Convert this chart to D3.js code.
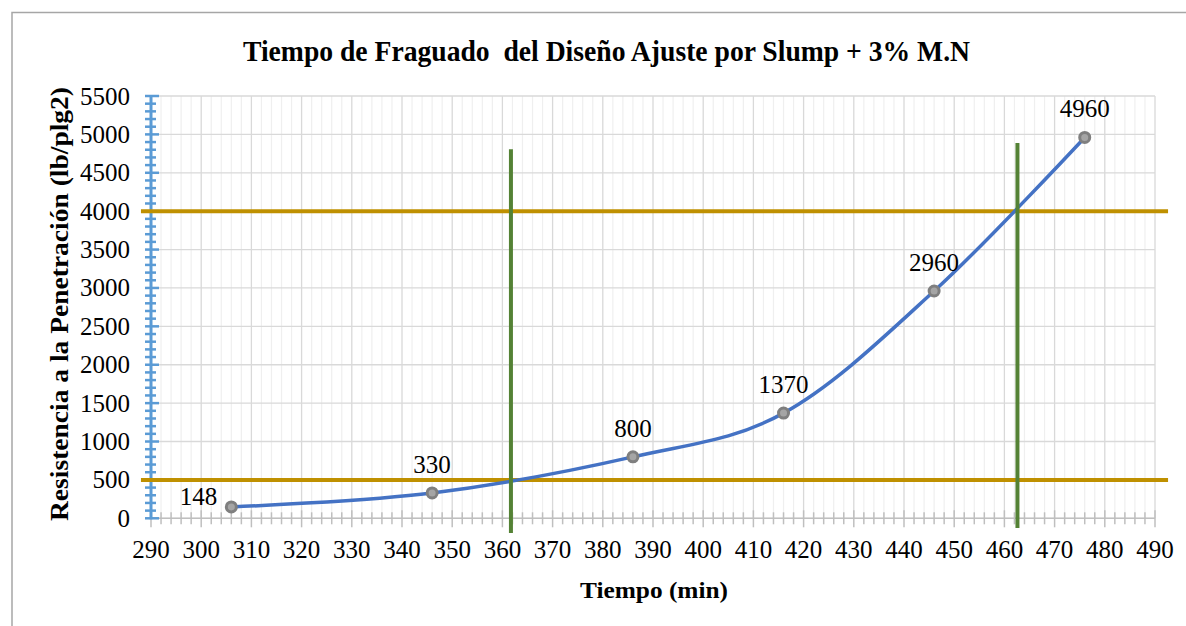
<!DOCTYPE html>
<html>
<head>
<meta charset="utf-8">
<script src="https://cdn.jsdelivr.net/npm/d3@7"></script>
<style>
  html, body { margin: 0; padding: 0; background: #fff; }
  svg { display: block; }
</style>
</head>
<body>
<svg id="chart" width="1186" height="626"></svg>
<script>
// Setting-time measurements: elapsed time (min) and penetration resistance (lb/plg2)
const tiempo = [306, 346, 386, 416, 446, 476];
const resistencia = [148, 330, 800, 1370, 2960, 4960];
const etiquetas = ["148", "330", "800", "1370", "2960", "4960"];

// Reference thresholds: initial set (500) and final set (4000)
const umbrales = [500, 4000];
const umbralExtX = [288, 492.6];

// Set times read where the curve meets each threshold
const tiemposFraguado = [361.7, 462.6];
const fraguadoExtY = [[-191, 4806], [-127, 4888]];

const xTicks = d3.range(290, 491, 10);
const yTicks = d3.range(0, 5501, 500);

const titulo = "Tiempo de Fraguado  del Diseño Ajuste por Slump + 3% M.N";
const tituloX = "Tiempo (min)";
const tituloY = "Resistencia a la Penetración (lb/plg2)";

const FONT = "'Liberation Serif', Tinos, 'Times New Roman', Times, 'Nimbus Roman', 'Noto Serif', 'DejaVu Serif', serif";

const svg = d3.select("#chart").attr("font-family", FONT);
const W = 1186, H = 626;
const plot = { left: 151, right: 1155, top: 96, bottom: 518.3 };

const x = d3.scaleLinear().domain([290, 490]).range([plot.left, plot.right]);
const y = d3.scaleLinear().domain([0, 5500]).range([plot.bottom, plot.top]);

// chart frame
svg.append("rect").attr("x", 0).attr("y", 0).attr("width", W).attr("height", H).attr("fill", "#fff");
svg.append("rect")
  .attr("x", 12).attr("y", 12.5).attr("width", W + 20).attr("height", H + 20)
  .attr("fill", "none").attr("stroke", "#a6a6a6").attr("stroke-width", 1.5);

// title
svg.append("text")
  .attr("x", 243).attr("y", 61)
  .attr("font-size", 29).attr("font-weight", "bold")
  .attr("textLength", 727).attr("lengthAdjust", "spacingAndGlyphs")
  .attr("fill", "#000")
  .style("white-space", "pre")
  .text(titulo);

// minor vertical gridlines (every 2 min)
const xMinor = d3.range(290, 491, 2).filter(v => v % 10 !== 0);
svg.append("g").selectAll("line").data(xMinor).join("line")
  .attr("x1", d => x(d)).attr("x2", d => x(d))
  .attr("y1", plot.top).attr("y2", plot.bottom)
  .attr("stroke", "#efefef").attr("stroke-width", 1.2);

// major vertical gridlines
svg.append("g").selectAll("line").data(xTicks).join("line")
  .attr("x1", d => x(d)).attr("x2", d => x(d))
  .attr("y1", plot.top).attr("y2", plot.bottom)
  .attr("stroke", "#d9d9d9").attr("stroke-width", 1.3);

// horizontal gridlines
svg.append("g").selectAll("line").data(yTicks).join("line")
  .attr("x1", plot.left).attr("x2", plot.right)
  .attr("y1", d => y(d)).attr("y2", d => y(d))
  .attr("stroke", "#d9d9d9").attr("stroke-width", 1.3);

// x axis with minor ticks
const xAxisG = svg.append("g");
xAxisG.append("line")
  .attr("x1", plot.left).attr("x2", plot.right)
  .attr("y1", plot.bottom).attr("y2", plot.bottom)
  .attr("stroke", "#bfbfbf").attr("stroke-width", 1.5);
xAxisG.selectAll("line.minor").data(xMinor).join("line").attr("class", "minor")
  .attr("x1", d => x(d)).attr("x2", d => x(d))
  .attr("y1", plot.bottom - 6).attr("y2", plot.bottom + 6)
  .attr("stroke", "#bfbfbf").attr("stroke-width", 1.5);
xAxisG.selectAll("line.major").data(xTicks).join("line").attr("class", "major")
  .attr("x1", d => x(d)).attr("x2", d => x(d))
  .attr("y1", plot.bottom - 8).attr("y2", plot.bottom + 9)
  .attr("stroke", "#bfbfbf").attr("stroke-width", 1.5);
xAxisG.selectAll("text").data(xTicks).join("text")
  .attr("x", d => x(d)).attr("y", 558)
  .attr("text-anchor", "middle").attr("font-size", 25).attr("fill", "#000")
  .text(d => d);

// y axis (blue) with minor ticks
const yAxisG = svg.append("g");
const yMinor = d3.range(0, 5501, 100).filter(v => v % 500 !== 0);
yAxisG.selectAll("line.minor").data(yMinor).join("line").attr("class", "minor")
  .attr("x1", plot.left - 6).attr("x2", plot.left + 5)
  .attr("y1", d => y(d)).attr("y2", d => y(d))
  .attr("stroke", "#5b9bd5").attr("stroke-width", 2.5);
yAxisG.selectAll("line.major").data(yTicks).join("line").attr("class", "major")
  .attr("x1", plot.left - 6).attr("x2", plot.left + 8)
  .attr("y1", d => y(d)).attr("y2", d => y(d))
  .attr("stroke", "#5b9bd5").attr("stroke-width", 2.5);
yAxisG.append("line")
  .attr("x1", plot.left).attr("x2", plot.left)
  .attr("y1", plot.top - 1).attr("y2", plot.bottom + 1)
  .attr("stroke", "#5b9bd5").attr("stroke-width", 3);
yAxisG.selectAll("text").data(yTicks).join("text")
  .attr("x", 130).attr("y", d => y(d) + 8.5)
  .attr("text-anchor", "end").attr("font-size", 25).attr("fill", "#000")
  .text(d => d);

// axis titles
svg.append("text")
  .attr("x", 580).attr("y", 598)
  .attr("font-size", 24).attr("font-weight", "bold")
  .attr("textLength", 148).attr("lengthAdjust", "spacingAndGlyphs")
  .text(tituloX);
svg.append("text")
  .attr("transform", "translate(68,521) rotate(-90)")
  .attr("font-size", 25).attr("font-weight", "bold")
  .attr("textLength", 434).attr("lengthAdjust", "spacingAndGlyphs")
  .text(tituloY);

// threshold lines
svg.append("g").selectAll("line").data(umbrales).join("line")
  .attr("x1", x(umbralExtX[0])).attr("x2", x(umbralExtX[1]))
  .attr("y1", d => y(d)).attr("y2", d => y(d))
  .attr("stroke", "#bf9000").attr("stroke-width", 4);

// penetration curve
const puntos = tiempo.map((t, i) => ({ t, r: resistencia[i], label: etiquetas[i] }));
const linea = d3.line().x(d => x(d.t)).y(d => y(d.r)).curve(d3.curveCatmullRom.alpha(0));
svg.append("path").datum(puntos)
  .attr("d", linea)
  .attr("fill", "none").attr("stroke", "#4472c4").attr("stroke-width", 3.5)
  .attr("stroke-linecap", "round");

// set-time markers
svg.append("g").selectAll("line").data(tiemposFraguado).join("line")
  .attr("x1", d => x(d)).attr("x2", d => x(d))
  .attr("y1", (d, i) => y(fraguadoExtY[i][0])).attr("y2", (d, i) => y(fraguadoExtY[i][1]))
  .attr("stroke", "#548235").attr("stroke-width", 4);

// data points
svg.append("g").selectAll("circle").data(puntos).join("circle")
  .attr("cx", d => x(d.t)).attr("cy", d => y(d.r)).attr("r", 5)
  .attr("fill", "#a5a5a5").attr("stroke", "#7f7f7f").attr("stroke-width", 3);

// value labels
svg.append("g").selectAll("text").data(puntos).join("text")
  .attr("x", (d, i) => i === 0 ? x(d.t) - 14 : x(d.t))
  .attr("y", (d, i) => i === 0 ? y(d.r) - 2 : y(d.r) - 20)
  .attr("text-anchor", (d, i) => i === 0 ? "end" : "middle")
  .attr("font-size", 25).attr("fill", "#000")
  .text(d => d.label);
</script>
</body>
</html>
